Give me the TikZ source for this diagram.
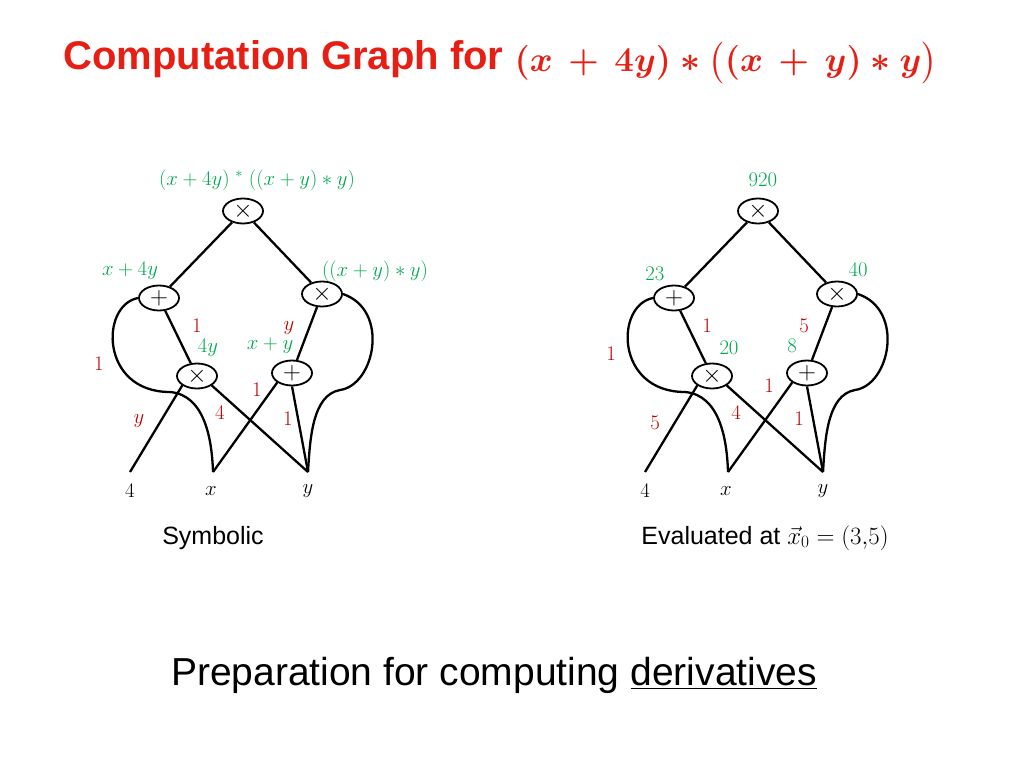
\documentclass[tikz,border=0pt]{standalone}
\usepackage{fontspec}
\setmainfont{Liberation Sans}
\usepackage{amsmath}
\usepackage{graphicx}
\usetikzlibrary{shapes.geometric}
\definecolor{tred}{RGB}{230,30,20}
\definecolor{lred}{RGB}{192,0,0}
\definecolor{lgreen}{RGB}{0,168,80}
\begin{document}
\begin{tikzpicture}[x=1pt,y=-1pt,
  op/.style={draw,ellipse,line width=1.8pt,minimum width=40pt,minimum height=25pt,inner sep=0pt,font=\fontsize{28}{28}\selectfont},
  lf/.style={inner sep=0pt,minimum size=1pt},
  ed/.style={line width=2.3pt},
  gl/.style={text=lgreen,font=\fontsize{21}{21}\selectfont},
  rl/.style={text=lred,font=\fontsize{21}{21}\selectfont},
  bl/.style={font=\fontsize{21}{21}\selectfont}]
\useasboundingbox (0,0) rectangle (1024,768);
\node[anchor=west,text=tred,font=\fontsize{40}{40}\selectfont\bfseries] (title) at (60,62) {Computation Graph for \raisebox{-2pt}{\scalebox{1.4}{$\boldsymbol{(x\,+\,4y)\ast\bigl((x\,+\,y)\ast y\bigr)}$}}};
\foreach \o/\nm in {0/L,515/R}{
\begin{scope}[xshift=\o]
\node[op] (\nm t) at (243,211) {$\times$};
\node[op] (\nm p) at (159,298) {$+$};
\node[op] (\nm m) at (322,294) {$\times$};
\node[op] (\nm a) at (197,376) {$\times$};
\node[op] (\nm b) at (292,373) {$+$};
\coordinate (\nm 4) at (130,472);
\coordinate (\nm x) at (213,472);
\coordinate (\nm y) at (308,472);
\node[bl] (\nm l4) at (130,491) {$4$};
\node[bl] (\nm lx) at (211,491) {$x$};
\node[bl] (\nm ly) at (308,491) {$y$};
\draw[ed] (\nm t) -- (\nm p);
\draw[ed] (\nm t) -- (\nm m);
\draw[ed] (\nm p) -- (\nm a);
\draw[ed] (\nm m) -- (\nm b);
\draw[ed] (\nm a.south west) -- (\nm 4);
\draw[ed] (\nm a.south east) -- (\nm y);
\draw[ed] (\nm b.south west) -- (\nm x);
\draw[ed] (\nm b.south) -- (\nm y);
\draw[ed] (\nm p.west) .. controls (100,305) and (100,392) .. (170,392) .. controls (205,395) and (212,440) .. (\nm x);
\draw[ed] (\nm m.east) .. controls (390,310) and (375,385) .. (340,390) .. controls (312,395) and (310,440) .. (\nm y);
\end{scope}}
\node[gl] (g1) at (257,180) {$(x+4y)\ ^{\ast}\ ((x+y)\ast y)$};
\node[gl] (g2) at (130,271) {$x+4y$};
\node[gl] (g3) at (375,271) {$((x+y)\ast y)$};
\node[gl] (g4) at (208,348) {$4y$};
\node[gl] (g5) at (270,346) {$x+y$};
\node[rl] (r1) at (197,326) {$1$};
\node[rl] (r2) at (289,328) {$y$};
\node[rl] (r3) at (99,364) {$1$};
\node[rl] (r4) at (257,390) {$1$};
\node[rl] (r5) at (220,413) {$4$};
\node[rl] (r6) at (288,419) {$1$};
\node[rl] (r7) at (139,421) {$y$};
\node[gl] (h1) at (763,180) {$920$};
\node[gl] (h2) at (655,274) {$23$};
\node[gl] (h3) at (858,270) {$40$};
\node[gl] (h4) at (729,348) {$20$};
\node[gl] (h5) at (792,346) {$8$};
\node[rl] (s1) at (707,326) {$1$};
\node[rl] (s2) at (804,326) {$5$};
\node[rl] (s3) at (611,354) {$1$};
\node[rl] (s4) at (769,386) {$1$};
\node[rl] (s5) at (736,413) {$4$};
\node[rl] (s6) at (799,419) {$1$};
\node[rl] (s7) at (655,423) {$5$};
\node[font=\fontsize{25}{25}\selectfont] (c1) at (213,538) {Symbolic};
\node[font=\fontsize{25}{25}\selectfont] (c2) at (765,538) {Evaluated at $\vec{x}_0=(3{,}5)$};
\node[font=\fontsize{39}{39}\selectfont] (c3) at (494,675) {Preparation for computing \underline{derivatives}};
\end{tikzpicture}
\end{document}
